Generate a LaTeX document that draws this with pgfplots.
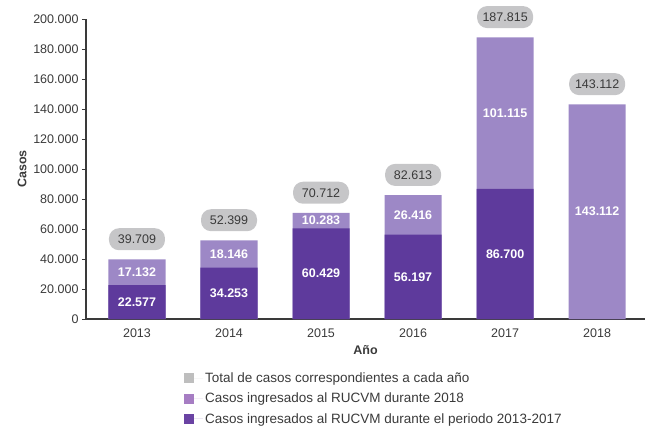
\documentclass[border=0pt]{standalone}
\usepackage{fontspec}
\setmainfont{Liberation Sans}
\usepackage{pgfplots}
\usepackage{pgfplotstable}
\pgfplotsset{compat=1.18}

\definecolor{oscuro}{HTML}{5E3A9C}
\definecolor{claro}{HTML}{9D88C6}
\definecolor{gristotal}{HTML}{C6C6C8}
\definecolor{texto}{HTML}{3A3A3A}
\definecolor{leggris}{HTML}{BEBEBE}
\definecolor{legclaro}{HTML}{A67DC3}
\definecolor{legoscuro}{HTML}{6A43A3}

% x = posicion de la categoria (2013 ... 2018)
\pgfplotstableread{
x dark light total
0 22577 17132 39709
1 34253 18146 52399
2 60429 10283 70712
3 56197 26416 82613
4 86700 101115 187815
5 0 143112 143112
}\casos

\begin{document}
\begin{tikzpicture}[font=\fontsize{12.5}{14}\selectfont, text=texto]
\begin{axis}[
    at={(0,0)}, anchor=south west,
    scale only axis, width=559pt, height=300pt,
    xmin=-0.554, xmax=5.52, ymin=0, ymax=200000,
    axis lines=left,
    axis line style={-, texto, line width=1.1pt},
    xtick={0,...,5},
    xticklabels={2013,2014,2015,2016,2017,2018},
    xtick style={draw=none},
    xticklabel style={yshift=-2pt},
    ytick={0,20000,...,200000},
    ytick style={texto, line width=0.8pt},
    tick align=outside, major tick length=4pt,
    scaled y ticks=false,
    /pgf/number format/1000 sep={.},
    /pgf/number format/fixed,
    /pgf/number format/assume math mode=true,
    xlabel={Año}, ylabel={Casos},
    label style={font=\bfseries\fontsize{12.5}{14}\selectfont},
    xlabel style={yshift=-1pt},
    legend style={at={(0.515,-0.165)}, anchor=north, draw=none, fill=none,
        row sep=5pt, font=\fontsize{13.5}{15}\selectfont},
    legend cell align=left,
    legend image code/.code={\fill[#1, draw=none] (0pt,-5pt) rectangle (10pt,5pt);
        \path[draw=none] (0pt,0pt) -- (19pt,0pt);},
    clip=false,
]

% barra clara = total del año, con la etiqueta gris encima
\addplot[ybar, bar width=0.62, bar shift=0pt, fill=claro, draw=none, forget plot,
    point meta=y,
    nodes near coords={\pgfmathprintnumber{\pgfplotspointmeta}},
    every node near coord/.append style={anchor=south, yshift=9pt,
        fill=gristotal, rounded corners=10pt, minimum width=56pt,
        minimum height=22pt, inner sep=0pt, text=texto}]
    table[x=x, y=total] {\casos};

% barra oscura = periodo 2013-2017
\addplot[ybar, bar width=0.62, bar shift=0pt, fill=oscuro, draw=none, forget plot]
    table[x=x, y=dark] {\casos};

% etiquetas blancas dentro de los segmentos
\addplot[draw=none, mark=none, forget plot,
    point meta=\thisrow{dark},
    skip coords between index={5}{6},
    nodes near coords={\bfseries\pgfmathprintnumber{\pgfplotspointmeta}},
    every node near coord/.append style={anchor=center, text=white}]
    table[x=x, y expr=\thisrow{dark}/2] {\casos};

\addplot[draw=none, mark=none, forget plot,
    point meta=\thisrow{light},
    nodes near coords={\bfseries\pgfmathprintnumber{\pgfplotspointmeta}},
    every node near coord/.append style={anchor=center, text=white}]
    table[x=x, y expr=\thisrow{dark}+\thisrow{light}/2] {\casos};

\addlegendimage{fill=leggris}
\addlegendentry{Total de casos correspondientes a cada año}
\addlegendimage{fill=legclaro}
\addlegendentry{Casos ingresados al RUCVM durante 2018}
\addlegendimage{fill=legoscuro}
\addlegendentry{Casos ingresados al RUCVM durante el periodo 2013-2017}

\end{axis}
\pgfresetboundingbox
\path (-86pt,-107pt) rectangle (570pt,319pt);
\end{tikzpicture}
\end{document}
